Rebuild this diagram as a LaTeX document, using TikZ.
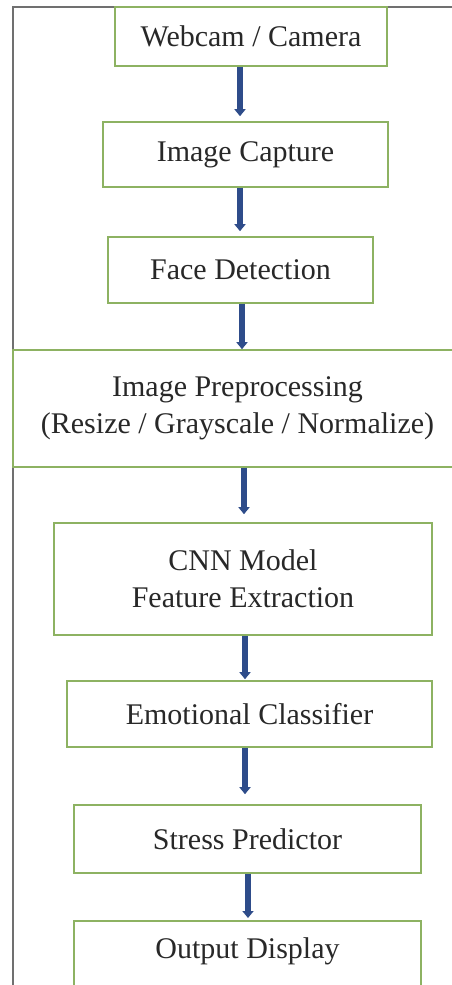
\documentclass[tikz,border=0pt]{standalone}
\usepackage{fontspec}
\setmainfont{Liberation Serif}
\usetikzlibrary{shapes,arrows,calc,arrows.meta}

\definecolor{boxgreen}{RGB}{141,178,98}
\definecolor{flowblue}{RGB}{46,76,138}
\definecolor{framegray}{RGB}{112,112,112}
\definecolor{textgray}{RGB}{40,40,40}

\begin{document}
\begin{tikzpicture}[x=1pt,y=-1pt,
    block/.style={draw=boxgreen, line width=1.6pt, inner sep=0pt, align=center,
                  text=textgray, font=\fontsize{30pt}{37pt}\selectfont},
    flow/.style={draw=flowblue, line width=6pt,
                 -{Triangle[width=11pt,length=7pt]}}]
            \useasboundingbox (0,0) rectangle (452,985);
            \draw[framegray, line width=2pt] (13,985) -- (13,7) -- (452,7);
            \draw (251,36.5) node[block, minimum width=272pt, minimum height=59pt] (webcam) {Webcam / Camera};
            \draw (245.5,154.5) node[block, minimum width=285pt, minimum height=65pt] (capture) {Image Capture};
            \draw (240.5,270) node[block, minimum width=265pt, minimum height=66pt] (face) {Face Detection};
            \draw (237.5,408.5) node[block, minimum width=449pt, minimum height=117pt] (prep) {Image Preprocessing\\(Resize / Grayscale / Normalize)};
            \draw (243,579) node[block, minimum width=378pt, minimum height=112pt] (cnn) {CNN Model\\Feature Extraction};
            \draw (249.5,714) node[block, minimum width=365pt, minimum height=66pt] (emo) {Emotional Classifier};
            \draw (247.5,839) node[block, minimum width=347pt, minimum height=68pt] (stress) {Stress Predictor};
            \draw (247.5,920) node[block, anchor=north, minimum width=347pt, text height=38pt, text depth=60pt] (out) {Output Display};
            % x positions of the arrows
            \coordinate (xa) at (240,0);
            \coordinate (xb) at (242,0);
            \coordinate (xc) at (244,0);
            \coordinate (xd) at (245,0);
            \coordinate (xe) at (248,0);
            \path (webcam.south -| xa) edge[flow, shorten >=5pt] (capture.north -| xa)
                  (capture.south -| xa) edge[flow, shorten >=5pt] (face.north -| xa)
                  (face.south -| xb) edge[flow] (prep.north -| xb)
                  (prep.south -| xc) edge[flow, shorten >=8pt] (cnn.north -| xc)
                  (cnn.south -| xd) edge[flow, shorten >=1pt] (emo.north -| xd)
                  (emo.south -| xd) edge[flow, shorten >=10pt] (stress.north -| xd)
                  (stress.south -| xe) edge[flow, shorten >=2pt] (out.north -| xe);
        \end{tikzpicture}
\end{document}
